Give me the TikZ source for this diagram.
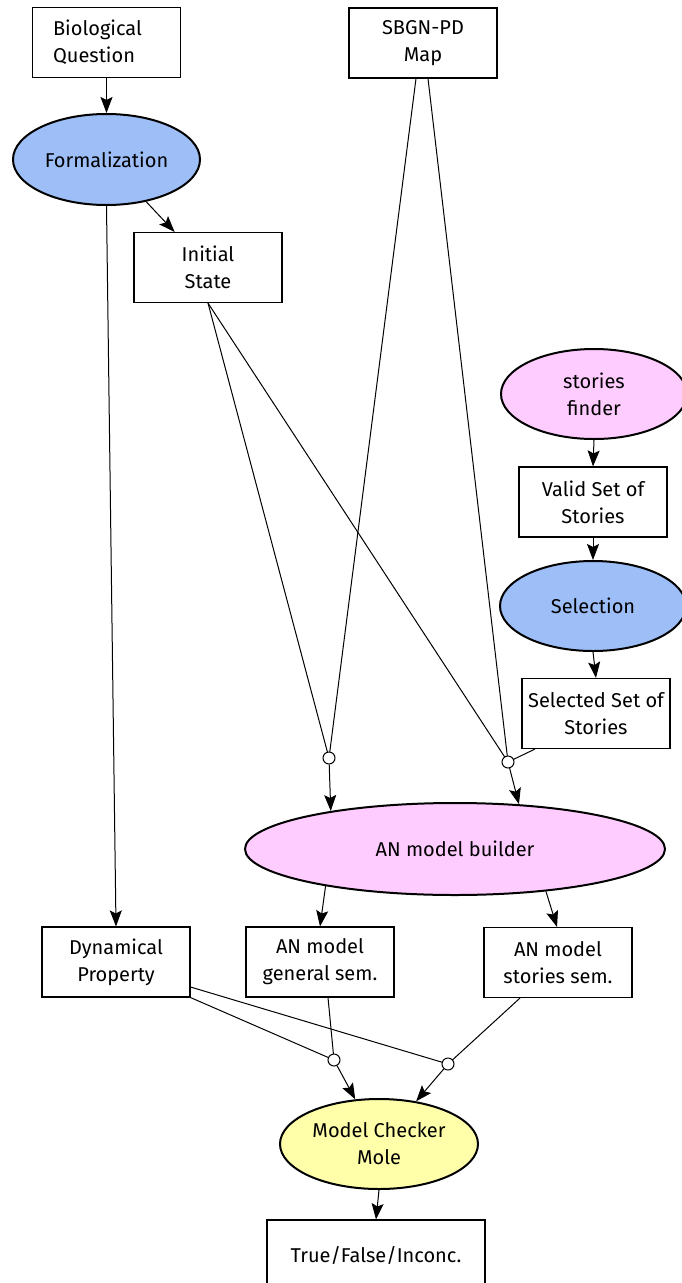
\documentclass[tikz,border=0pt]{standalone}
\usepackage{fontspec}
\setmainfont{Fira Sans}
\usetikzlibrary{shapes.geometric,arrows.meta}
\definecolor{fblue}{RGB}{157,190,247}
\definecolor{fpink}{RGB}{255,204,255}
\definecolor{fyellow}{RGB}{255,255,170}
\begin{document}
\begin{tikzpicture}[x=1pt,y=-1pt,
 box/.style={draw, line width=1.1pt, minimum width=148pt, minimum height=70pt, align=center, inner sep=0pt},
 proc/.style={ellipse, draw, line width=2pt, align=center, inner sep=0pt},
 junc/.style={circle, draw, fill=white, line width=1pt, minimum size=12pt, inner sep=0pt},
 link/.style={line width=1pt},
 arr/.style={link, -{Stealth[length=16pt,width=12pt,inset=3pt]}},
 font=\fontsize{20}{27}\selectfont]
\useasboundingbox (0,0) rectangle (681,1283);
\node[box, align=left] (bq) at (106.5,42.5) {Biological\hspace*{18pt}\\Question};
\node[box] (sbgn) at (423,43) {SBGN-PD\\Map};
\node[proc, fill=fblue, minimum width=187pt, minimum height=91pt] (form) at (106.5,159.5) {Formalization};
\node[box] (init) at (208,267.5) {Initial\\State};
\node[proc, fill=fpink, minimum width=186pt, minimum height=90pt] (finder) at (594,394) {stories\\finder};
\node[box] (valid) at (593,502) {Valid Set of\\Stories};
\node[proc, fill=fblue, minimum width=186pt, minimum height=90pt] (sel) at (593,606) {Selection};
\node[box] (selset) at (596,713.5) {Selected Set of\\Stories};
\node[proc, fill=fpink, minimum width=420pt, minimum height=92pt] (builder) at (455,849) {AN model builder};
\node[box] (dyn) at (116,962) {Dynamical\\Property};
\node[box] (gen) at (320,962) {AN model\\general sem.};
\node[box] (sto) at (558,962.5) {AN model\\stories sem.};
\node[proc, fill=fyellow, minimum width=198pt, minimum height=90pt] (mole) at (379,1144) {Model Checker\\Mole};
\node[box, minimum width=218pt] (res) at (376,1255) {True/False/Inconc.};

\draw[arr] (bq) -- (form);
\draw[arr] (form) -- (init);
\draw[arr] (form.south) -- (dyn.north);
\draw[arr] (finder.south) -- (valid.north);
\draw[arr] (valid.south) -- (sel.north);
\draw[arr] (sel.south) -- (selset.north);

\draw[link] ([xshift=-7pt]sbgn.south) -- (329,758) coordinate (c1);
\draw[link] ([xshift=5pt]sbgn.south) -- (508,762) coordinate (c2);
\draw[link] (init.south) -- (c1);
\draw[link] (init.south) -- (c2);
\draw[link] ([xshift=-61pt]selset.south) -- (c2);
\node[junc] (j1) at (c1) {};
\node[junc] (j2) at (c2) {};
\draw[arr] (j1) -- (builder.163.9);
\draw[arr] (j2) -- (builder.35);

\draw[arr] (builder.196.1) -- (gen.north);
\draw[arr] (builder.335.2) -- ([xshift=-1pt]sto.north);

\draw[link] ([yshift=-25pt]dyn.east) -- (448,1064) coordinate (c4);
\draw[link] (dyn.south east) -- (334,1060) coordinate (c3);
\draw[link] ([xshift=8pt]gen.south) -- (c3);
\draw[link] ([xshift=-38pt]sto.south) -- (c4);
\node[junc] (j3) at (c3) {};
\node[junc] (j4) at (c4) {};
\draw[arr] (j3) -- (mole.118.6);
\draw[arr] (j4) -- (mole.49.4);
\draw[arr] (mole.south) -- (res.north);
\end{tikzpicture}
\end{document}
